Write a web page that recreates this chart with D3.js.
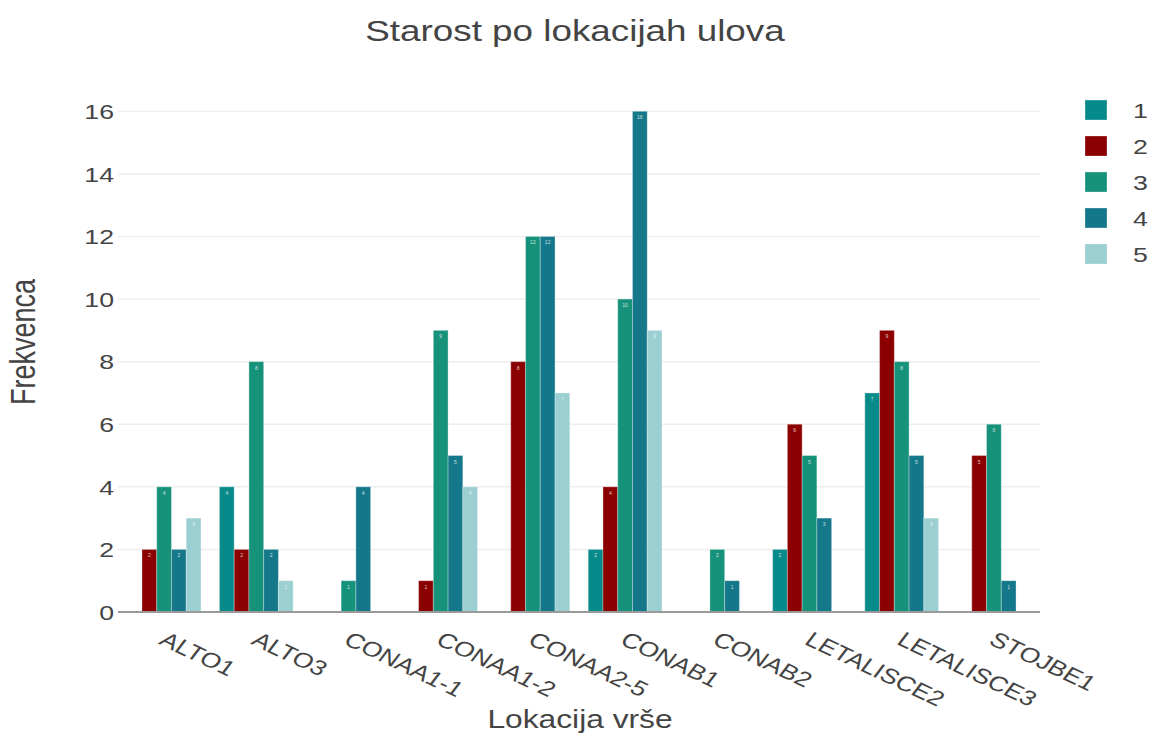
<!DOCTYPE html>
<html>
<head>
<meta charset="utf-8">
<script src="https://cdn.jsdelivr.net/npm/d3@7"></script>
<style>
  body { margin: 0; background: #fff; }
  text { font-family: "Liberation Sans", Arial, sans-serif; fill: #444; }
</style>
</head>
<body>
<div id="chart"></div>
<script>
// data
var locations = ["ALTO1", "ALTO3", "CONAA1-1", "CONAA1-2", "CONAA2-5", "CONAB1", "CONAB2", "LETALISCE2", "LETALISCE3", "STOJBE1"];
var ages = ["1", "2", "3", "4", "5"];
var age1 = [0, 4, 0, 0, 0, 2, 0, 2, 7, 0];
var age2 = [2, 2, 0, 1, 8, 4, 0, 6, 9, 5];
var age3 = [4, 8, 1, 9, 12, 10, 2, 5, 8, 6];
var age4 = [2, 2, 4, 5, 12, 16, 1, 3, 5, 1];
var age5 = [3, 1, 0, 4, 7, 9, 0, 0, 3, 0];
var yTicks = [0, 2, 4, 6, 8, 10, 12, 14, 16];

var seriesValues = [age1, age2, age3, age4, age5];
var colors = ["#078a8a", "#8b0000", "#17927a", "#15778a", "#9ccfd1"];

var W = 1152, H = 735;
var plotLeft = 118, plotRight = 1040, plotTop = 85, plotBottom = 612;
var sx = 1.27; // text looks stretched sideways

var svg = d3.select("#chart").append("svg")
    .attr("width", W)
    .attr("height", H);

var x0 = d3.scaleBand().domain(locations).range([plotLeft, plotRight]).paddingInner(0.2).paddingOuter(0.1);
var x1 = d3.scaleBand().domain(ages).range([0, x0.bandwidth()]);
var y = d3.scaleLinear().domain([0, 16.84]).range([plotBottom, plotTop]);

// gridlines
svg.append("g")
    .selectAll("line")
    .data(yTicks.filter(function (d) { return d > 0; }))
    .enter()
    .append("line")
    .attr("x1", plotLeft).attr("x2", plotRight)
    .attr("y1", function (d) { return y(d); })
    .attr("y2", function (d) { return y(d); })
    .attr("stroke", "#eeeeee")
    .attr("stroke-width", 1.5);

// y axis labels
var yAxis = svg.append("g")
    .attr("transform", "translate(" + plotLeft + ",0)")
    .call(d3.axisLeft(y).tickValues(yTicks).tickSize(0).tickPadding(0));
yAxis.select(".domain").remove();
yAxis.selectAll("text")
    .attr("x", 0)
    .attr("dy", "0.35em")
    .attr("transform", "translate(-4,0) scale(" + sx + ",1)")
    .style("font-size", "21px")
    .style("font-family", "Liberation Sans, Arial, sans-serif")
    .attr("fill", "#444");

// bars
var rows = locations.map(function (loc, i) {
  return { loc: loc, vals: ages.map(function (a, j) { return { age: a, v: seriesValues[j][i], c: colors[j] }; }) };
});

var group = svg.append("g")
    .selectAll("g")
    .data(rows)
    .enter()
    .append("g")
    .attr("transform", function (d) { return "translate(" + x0(d.loc) + ",0)"; });

group.selectAll("rect")
    .data(function (d) { return d.vals.filter(function (e) { return e.v > 0; }); })
    .enter()
    .append("rect")
    .attr("x", function (d) { return x1(d.age); })
    .attr("width", x1.bandwidth())
    .attr("y", function (d) { return y(d.v); })
    .attr("height", function (d) { return y(0) - y(d.v); })
    .attr("fill", function (d) { return d.c; })
    .attr("stroke", "rgba(255,255,255,0.3)")
    .attr("stroke-width", 1);

// tiny value labels inside bars
group.selectAll("text.val")
    .data(function (d) { return d.vals.filter(function (e) { return e.v > 0; }); })
    .enter()
    .append("text")
    .attr("class", "val")
    .attr("x", function (d) { return x1(d.age) + x1.bandwidth() / 2; })
    .attr("y", function (d) { return y(d.v) + 8; })
    .attr("text-anchor", "middle")
    .style("font-size", "5px")
    .style("fill", "#fff")
    .style("opacity", 0.75)
    .text(function (d) { return d.v; });

// zero line
svg.append("line")
    .attr("x1", plotLeft).attr("x2", plotRight)
    .attr("y1", y(0)).attr("y2", y(0))
    .attr("stroke", "#9a9a9a")
    .attr("stroke-width", 2);

// x axis labels
var xAxis = svg.append("g")
    .attr("transform", "translate(0," + plotBottom + ")")
    .call(d3.axisBottom(x0).tickSize(0).tickPadding(0));
xAxis.select(".domain").remove();
xAxis.selectAll("text")
    .attr("y", 0)
    .attr("dy", "0.75em")
    .attr("text-anchor", "start")
    .attr("transform", "translate(4,18) scale(" + sx + ",1) rotate(31)")
    .style("font-size", "21px")
    .style("font-family", "Liberation Sans, Arial, sans-serif")
    .attr("fill", "#444");

// titles
svg.append("text")
    .attr("transform", "translate(575,41) scale(" + sx + ",1)")
    .attr("text-anchor", "middle")
    .style("font-size", "29px")
    .text("Starost po lokacijah ulova");

svg.append("text")
    .attr("transform", "translate(580,728) scale(" + sx + ",1)")
    .attr("text-anchor", "middle")
    .style("font-size", "25px")
    .text("Lokacija vrše");

svg.append("text")
    .attr("transform", "translate(35,342) scale(" + sx + ",1) rotate(-90)")
    .attr("text-anchor", "middle")
    .style("font-size", "27px")
    .text("Frekvenca");

// legend
var legend = svg.append("g")
    .selectAll("g")
    .data(ages)
    .enter()
    .append("g")
    .attr("transform", function (d, i) { return "translate(1085," + (100 + i * 36) + ")"; });

legend.append("rect")
    .attr("width", 22)
    .attr("height", 20)
    .attr("fill", function (d, i) { return colors[i]; })
    .attr("stroke", "rgba(255,255,255,0.3)");

legend.append("text")
    .attr("transform", "translate(48,18) scale(" + sx + ",1)")
    .style("font-size", "21px")
    .text(function (d) { return d; });
</script>
</body>
</html>
